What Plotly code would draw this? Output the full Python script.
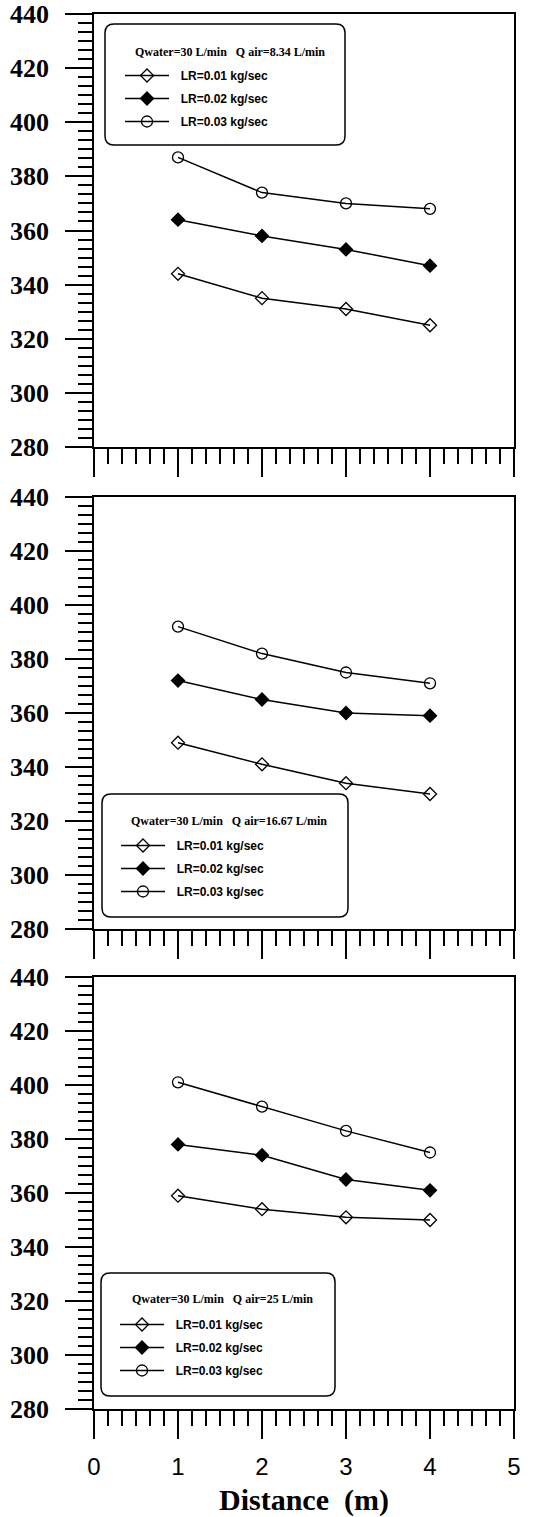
import plotly.graph_objects as go

# ---------------- data ----------------
distance = [1, 2, 3, 4]
series_names = ["LR=0.01 kg/sec", "LR=0.02 kg/sec", "LR=0.03 kg/sec"]
legend_titles = [
    "Qwater=30 L/min&nbsp;&nbsp; Q air=8.34 L/min",
    "Qwater=30 L/min&nbsp;&nbsp; Q air=16.67 L/min",
    "Qwater=30 L/min&nbsp;&nbsp; Q air=25 L/min",
]
p1_lr001 = [344, 335, 331, 325]
p1_lr002 = [364, 358, 353, 347]
p1_lr003 = [387, 374, 370, 368]
p2_lr001 = [349, 341, 334, 330]
p2_lr002 = [372, 365, 360, 359]
p2_lr003 = [392, 382, 375, 371]
p3_lr001 = [359, 354, 351, 350]
p3_lr002 = [378, 374, 365, 361]
p3_lr003 = [401, 392, 383, 375]
panels = [
    [p1_lr001, p1_lr002, p1_lr003],
    [p2_lr001, p2_lr002, p2_lr003],
    [p3_lr001, p3_lr002, p3_lr003],
]
x_ticks = [0, 1, 2, 3, 4, 5]
y_ticks = [280, 300, 320, 340, 360, 380, 400, 420, 440]

# ---------------- geometry ----------------
W, H = 534, 1517
ML, MR, MT, MB = 94, 20, 14, 108
PW = W - ML - MR
PH = H - MT - MB
panel_px = [(14, 447), (497, 929), (977, 1409)]


def py2paper(py):
    return (H - MB - py) / PH


def px2paper(px):
    return (px - ML) / PW


symbols = ["diamond-open", "diamond", "circle-open"]
msizes = [10, 10, 11]

fig = go.Figure()
legend_keys = ["legend", "legend2", "legend3"]
for pi, series in enumerate(panels):
    xa = "x" if pi == 0 else f"x{pi+1}"
    ya = "y" if pi == 0 else f"y{pi+1}"
    for si, vals in enumerate(series):
        fig.add_trace(go.Scatter(
            x=distance, y=vals, mode="lines+markers",
            name="&nbsp;&nbsp;" + series_names[si],
            xaxis=xa, yaxis=ya, legend=legend_keys[pi],
            legendgroup=f"p{pi}s{si}",
            line=dict(color="black", width=1.5),
            marker=dict(symbol=symbols[si], size=msizes[si], color="black",
                        line=dict(color="black", width=1.3)),
        ))

# legend boxes (pixel extents) : x0, y0, x1, y1
legend_boxes = [(105, 24, 345, 145), (102, 794, 348, 917), (101, 1273, 335, 1396)]
legend_pos = [(120, 61), (116, 831), (115, 1310)]
title_pos = [(230, 52), (229, 821), (222, 1299)]

layout = dict(
    width=W, height=H,
    margin=dict(l=ML, r=MR, t=MT, b=MB, autoexpand=False),
    paper_bgcolor="white", plot_bgcolor="white",
    showlegend=True,
)

axis_common_x = dict(
    range=[0, 5], tickmode="array", tickvals=x_ticks, ticks="outside",
    ticklen=28, tickwidth=1.8, tickcolor="black",
    showline=True, linecolor="black", linewidth=1.8, mirror=True,
    showgrid=False, zeroline=False, automargin=False,
    minor=dict(dtick=1/6, tick0=0, ticks="outside", ticklen=15, tickwidth=1.5, tickcolor="black"),
)

shapes = []
annotations = []
for pi, (top, bot) in enumerate(panel_px):
    suffix = "" if pi == 0 else str(pi + 1)
    xdict = dict(axis_common_x)
    xdict["anchor"] = "y" + suffix
    xdict["domain"] = [0, 1]
    if pi < 2:
        xdict["showticklabels"] = False
    else:
        xdict["tickfont"] = dict(family="Liberation Sans", size=24, color="black")
        xdict["ticklabelstandoff"] = 7
        xdict["title"] = dict(text="Distance&nbsp;&nbsp;(m)", standoff=14,
                              font=dict(family="Liberation Serif", size=30, color="black", weight="bold"))
    ydict = dict(
        range=[280, 440], tickmode="array", tickvals=y_ticks, ticks="outside",
        ticklen=27, tickwidth=1.8, tickcolor="black",
        showline=True, linecolor="black", linewidth=1.8, mirror=True,
        showgrid=False, zeroline=False, automargin=False,
        minor=dict(dtick=20/6, tick0=280, ticks="outside", ticklen=14, tickwidth=1.5, tickcolor="black"),
        tickfont=dict(family="Liberation Serif, 'Times New Roman', serif", size=26,
                      color="black", weight="bold"),
        ticklabelstandoff=11,
        anchor="x" + suffix,
        domain=[py2paper(bot), py2paper(top)],
    )
    layout["xaxis" + suffix] = xdict
    layout["yaxis" + suffix] = ydict

    lx, ly = legend_pos[pi]
    layout[legend_keys[pi]] = dict(
        x=px2paper(lx), y=py2paper(ly), xref="paper", yref="paper",
        xanchor="left", yanchor="top",
        bgcolor="rgba(0,0,0,0)", borderwidth=0,
        font=dict(family="Liberation Sans", size=12, color="black", weight="bold"),
        tracegroupgap=4, itemwidth=44,
    )

    tx, ty = title_pos[pi]
    annotations.append(dict(
        text=legend_titles[pi], x=px2paper(tx), y=py2paper(ty), xref="paper", yref="paper",
        xanchor="center", yanchor="middle", showarrow=False,
        font=dict(family="Liberation Serif", size=12, color="black", weight="bold"),
    ))

    # rounded box
    x0, y0, x1, y1 = legend_boxes[pi]
    r = 9
    X = px2paper
    Y = py2paper
    path = (f"M {X(x0+r)},{Y(y0)} L {X(x1-r)},{Y(y0)} Q {X(x1)},{Y(y0)} {X(x1)},{Y(y0+r)} "
            f"L {X(x1)},{Y(y1-r)} Q {X(x1)},{Y(y1)} {X(x1-r)},{Y(y1)} "
            f"L {X(x0+r)},{Y(y1)} Q {X(x0)},{Y(y1)} {X(x0)},{Y(y1-r)} "
            f"L {X(x0)},{Y(y0+r)} Q {X(x0)},{Y(y0)} {X(x0+r)},{Y(y0)} Z")
    shapes.append(dict(type="path", xref="paper", yref="paper", path=path,
                       line=dict(color="black", width=1.5), layer="above"))

layout["shapes"] = shapes
layout["annotations"] = annotations
fig.update_layout(**layout)
fig.write_html("out.html")
